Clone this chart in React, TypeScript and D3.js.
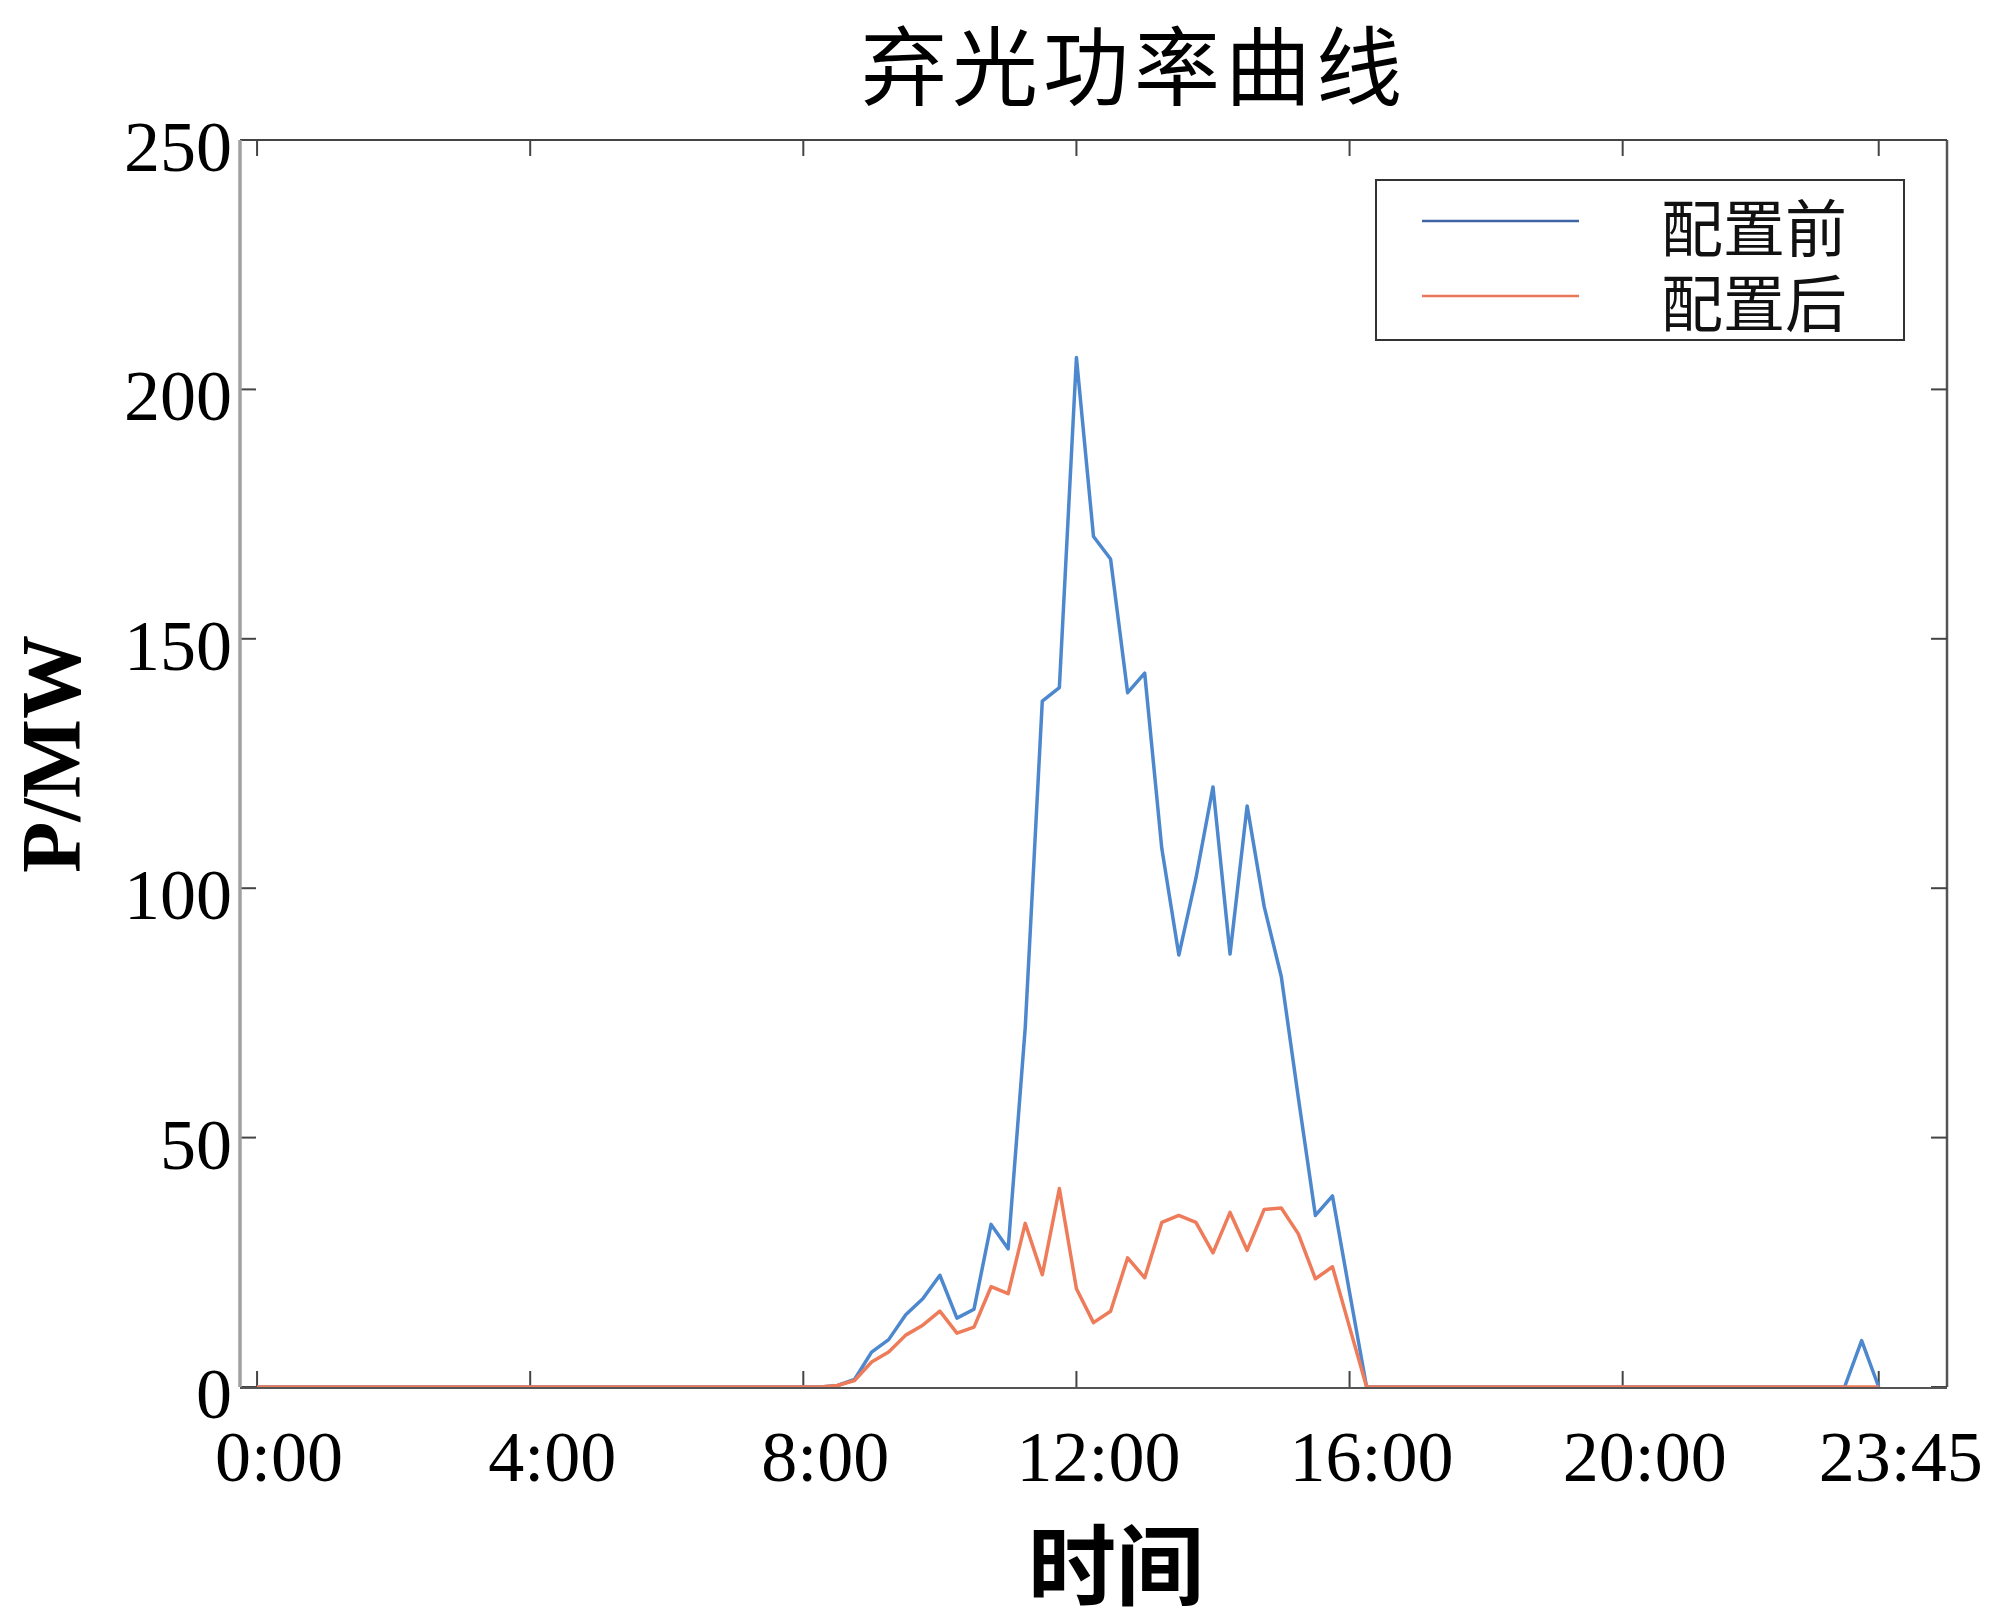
import * as d3 from 'd3'
import { useEffect, useRef } from 'react';

// 15-minute slots, 0:00 .. 23:45 (96 points)
const slotCount = 96;
const beforeValues = [
  0, 0, 0, 0, 0, 0, 0, 0, 0, 0, 0, 0, 0, 0, 0, 0,
  0, 0, 0, 0, 0, 0, 0, 0, 0, 0, 0, 0, 0, 0, 0, 0,
  0, 0, 0.3, 1.5, 7, 9.5, 14.5, 17.7, 22.4, 13.8, 15.6, 32.6, 27.7, 72, 137.5, 140.2,
  206.4, 170.5, 166, 139.2, 143.1, 108, 86.6, 102, 120.3, 86.8, 116.5, 96.3, 82.3, 58, 34.4, 38.3,
  19, 0, 0, 0, 0, 0, 0, 0, 0, 0, 0, 0, 0, 0, 0, 0,
  0, 0, 0, 0, 0, 0, 0, 0, 0, 0, 0, 0, 0, 0, 9.3, 0,
];
const afterValues = [
  0, 0, 0, 0, 0, 0, 0, 0, 0, 0, 0, 0, 0, 0, 0, 0,
  0, 0, 0, 0, 0, 0, 0, 0, 0, 0, 0, 0, 0, 0, 0, 0,
  0, 0, 0.3, 1.3, 5, 7, 10.4, 12.4, 15.2, 10.8, 12, 20.1, 18.7, 32.8, 22.5, 39.8,
  19.7, 12.9, 15.2, 25.9, 21.9, 33, 34.4, 33, 26.9, 35, 27.4, 35.6, 35.9, 30.7, 21.7, 24.1,
  12, 0, 0, 0, 0, 0, 0, 0, 0, 0, 0, 0, 0, 0, 0, 0,
  0, 0, 0, 0, 0, 0, 0, 0, 0, 0, 0, 0, 0, 0, 0, 0,
];
const xTickSlots = [0, 16, 32, 48, 64, 80, 95];
const xTickLabels = ['0:00', '4:00', '8:00', '12:00', '16:00', '20:00', '23:45'];
const yTicks = [0, 50, 100, 150, 200, 250];
const seriesNames = ['配置前', '配置后'];
const seriesColors = ['#4d88cf', '#ee7b5a'];
const legendColors = ['#3f66a3', '#e8775a'];

const serif = '"Liberation Serif", "Times New Roman", serif';
const cjk = '"Noto Sans CJK SC", sans-serif';

function App() {
  const ref = useRef<SVGSVGElement>(null);

  useEffect(() => {
    const svg = d3.select(ref.current);
    svg.selectAll('*').remove();

    const left = 240, right = 1947, top = 140, bottom = 1387;
    const x = d3.scaleLinear().domain([-1, 99]).range([left, right]);
    const y = d3.scaleLinear().domain([0, 250]).range([bottom, top]);

    // frame
    svg.append('line').attr('x1', left).attr('x2', right).attr('y1', top).attr('y2', top)
      .attr('stroke', '#444').attr('stroke-width', 2);
    svg.append('line').attr('x1', right).attr('x2', right).attr('y1', top).attr('y2', bottom)
      .attr('stroke', '#555').attr('stroke-width', 2.5);

    // inward ticks on all four sides
    const tickLen = 16;
    svg.selectAll('.xtb').data(xTickSlots).enter().append('line')
      .attr('x1', d => x(d)).attr('x2', d => x(d)).attr('y1', bottom).attr('y2', bottom - tickLen)
      .attr('stroke', '#444').attr('stroke-width', 2);
    svg.selectAll('.xtt').data(xTickSlots).enter().append('line')
      .attr('x1', d => x(d)).attr('x2', d => x(d)).attr('y1', top).attr('y2', top + tickLen)
      .attr('stroke', '#444').attr('stroke-width', 2);
    svg.selectAll('.ytl').data(yTicks).enter().append('line')
      .attr('x1', left).attr('x2', left + tickLen).attr('y1', d => y(d)).attr('y2', d => y(d))
      .attr('stroke', '#444').attr('stroke-width', 2);
    svg.selectAll('.ytr').data(yTicks).enter().append('line')
      .attr('x1', right).attr('x2', right - tickLen).attr('y1', d => y(d)).attr('y2', d => y(d))
      .attr('stroke', '#444').attr('stroke-width', 2);

    // tick labels
    svg.selectAll('.xl').data(xTickSlots).enter().append('text')
      .attr('x', d => x(d) + 22).attr('y', bottom + 94)
      .attr('text-anchor', 'middle').attr('font-family', serif).attr('font-size', 72)
      .text((d, i) => xTickLabels[i]);
    svg.selectAll('.yl').data(yTicks).enter().append('text')
      .attr('x', left - 8).attr('y', d => y(d) + 31)
      .attr('text-anchor', 'end').attr('font-family', serif).attr('font-size', 72)
      .text(d => d);

    // series
    const line = d3.line<number>().x((d, i) => x(i)).y(d => y(d));
    [beforeValues, afterValues].forEach((vals, k) => {
      svg.append('path').datum(vals.slice(0, slotCount)).attr('d', line)
        .attr('fill', 'none').attr('stroke', seriesColors[k]).attr('stroke-width', 3.5)
        .attr('stroke-linejoin', 'round');
    });

    // left and bottom spines on top
    svg.append('line').attr('x1', left).attr('x2', left).attr('y1', top).attr('y2', bottom)
      .attr('stroke', '#a0a0a0').attr('stroke-width', 3.5);
    svg.append('line').attr('x1', left).attr('x2', right).attr('y1', bottom + 1).attr('y2', bottom + 1)
      .attr('stroke', '#555').attr('stroke-width', 2);

    // legend
    svg.append('rect').attr('x', 1376).attr('y', 180).attr('width', 528).attr('height', 160)
      .attr('fill', '#fff').attr('stroke', '#333').attr('stroke-width', 2);
    seriesNames.forEach((name, k) => {
      const ly = 221 + k * 75;
      svg.append('line').attr('x1', 1422).attr('x2', 1579).attr('y1', ly).attr('y2', ly)
        .attr('stroke', legendColors[k]).attr('stroke-width', 2.5);
      svg.append('text').attr('x', 1661).attr('y', ly + 31)
        .attr('font-family', cjk).attr('font-size', 62).attr('fill', '#111')
        .text(name);
    });

    // titles
    svg.append('text').attr('x', 1134).attr('y', 99).attr('text-anchor', 'middle')
      .attr('font-family', cjk).attr('font-size', 86).attr('letter-spacing', 5)
      .attr('fill', '#000').text('弃光功率曲线');
    svg.append('text').attr('x', 1116).attr('y', 1598).attr('text-anchor', 'middle')
      .attr('font-family', cjk).attr('font-size', 88).attr('font-weight', 'bold')
      .attr('fill', '#000').text('时间');
    svg.append('text').attr('transform', 'translate(80,754) rotate(-90)')
      .attr('text-anchor', 'middle').attr('font-family', serif).attr('font-size', 84)
      .attr('font-weight', 'bold').attr('fill', '#000').text('P/MW');
  }, []);

  return (
    <svg ref={ref} width={2000} height={1623}
      style={{ position: 'absolute', left: 0, top: 0, background: '#fff' }} />
  );
}

export default App;
